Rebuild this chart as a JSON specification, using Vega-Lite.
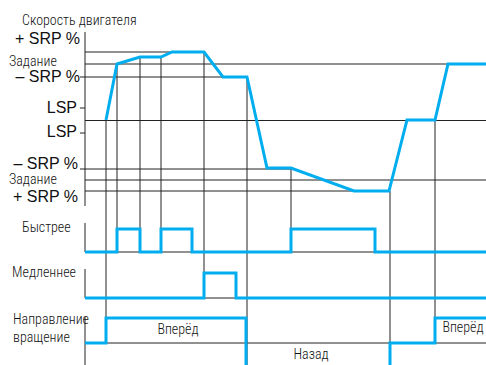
{
  "$schema": "https://vega.github.io/schema/vega-lite/v6.json",
  "width": 486,
  "height": 365,
  "autosize": {"type": "none"},
  "padding": 0,
  "background": "white",
  "config": {"view": {"stroke": null}},
  "datasets": {
    "grid": [
      {"x": 85, "x2": 85, "y": 32, "y2": 206},
      {"x": 85, "x2": 85, "y": 223, "y2": 252},
      {"x": 85, "x2": 85, "y": 269, "y2": 298},
      {"x": 85, "x2": 85, "y": 317, "y2": 366},
      {"x": 106, "x2": 106, "y": 120, "y2": 343},
      {"x": 117, "x2": 117, "y": 64, "y2": 252},
      {"x": 140, "x2": 140, "y": 57, "y2": 252},
      {"x": 161, "x2": 161, "y": 57, "y2": 252},
      {"x": 204, "x2": 204, "y": 52, "y2": 298},
      {"x": 247, "x2": 247, "y": 77, "y2": 366},
      {"x": 291, "x2": 291, "y": 168, "y2": 252},
      {"x": 390, "x2": 390, "y": 191, "y2": 366},
      {"x": 435, "x2": 435, "y": 120, "y2": 343},
      {"x": 85, "x2": 205, "y": 52, "y2": 52},
      {"x": 85, "x2": 486, "y": 64, "y2": 64},
      {"x": 80, "x2": 247, "y": 77, "y2": 77},
      {"x": 80, "x2": 85, "y": 108, "y2": 108},
      {"x": 85, "x2": 486, "y": 120.5, "y2": 120.5},
      {"x": 80, "x2": 85, "y": 133, "y2": 133},
      {"x": 80, "x2": 291, "y": 169, "y2": 169},
      {"x": 85, "x2": 486, "y": 180, "y2": 180},
      {"x": 85, "x2": 390, "y": 191, "y2": 191},
      {"x": 85, "x2": 486, "y": 252, "y2": 252},
      {"x": 85, "x2": 486, "y": 298, "y2": 298},
      {"x": 85, "x2": 486, "y": 343, "y2": 343}
    ],
    "signals": [
      {"s": "speed", "i": 1, "t": 106, "v": 120},
      {"s": "speed", "i": 2, "t": 117, "v": 64},
      {"s": "speed", "i": 3, "t": 140, "v": 57},
      {"s": "speed", "i": 4, "t": 161, "v": 57},
      {"s": "speed", "i": 5, "t": 172, "v": 52},
      {"s": "speed", "i": 6, "t": 204, "v": 52},
      {"s": "speed", "i": 7, "t": 223, "v": 77},
      {"s": "speed", "i": 8, "t": 247, "v": 77},
      {"s": "speed", "i": 9, "t": 267, "v": 168},
      {"s": "speed", "i": 10, "t": 291, "v": 168},
      {"s": "speed", "i": 11, "t": 354, "v": 191},
      {"s": "speed", "i": 12, "t": 389, "v": 191},
      {"s": "speed", "i": 13, "t": 407, "v": 120},
      {"s": "speed", "i": 14, "t": 435, "v": 120},
      {"s": "speed", "i": 15, "t": 448, "v": 64},
      {"s": "speed", "i": 16, "t": 486, "v": 64},
      {"s": "fast", "i": 1, "t": 85, "v": 252},
      {"s": "fast", "i": 2, "t": 117, "v": 252},
      {"s": "fast", "i": 3, "t": 117, "v": 229},
      {"s": "fast", "i": 4, "t": 140, "v": 229},
      {"s": "fast", "i": 5, "t": 140, "v": 252},
      {"s": "fast", "i": 6, "t": 161, "v": 252},
      {"s": "fast", "i": 7, "t": 161, "v": 229},
      {"s": "fast", "i": 8, "t": 192, "v": 229},
      {"s": "fast", "i": 9, "t": 192, "v": 252},
      {"s": "fast", "i": 10, "t": 291, "v": 252},
      {"s": "fast", "i": 11, "t": 291, "v": 229},
      {"s": "fast", "i": 12, "t": 375, "v": 229},
      {"s": "fast", "i": 13, "t": 375, "v": 252},
      {"s": "fast", "i": 14, "t": 486, "v": 252},
      {"s": "slow", "i": 1, "t": 85, "v": 298},
      {"s": "slow", "i": 2, "t": 204, "v": 298},
      {"s": "slow", "i": 3, "t": 204, "v": 273},
      {"s": "slow", "i": 4, "t": 236, "v": 273},
      {"s": "slow", "i": 5, "t": 236, "v": 298},
      {"s": "slow", "i": 6, "t": 486, "v": 298},
      {"s": "dir1", "i": 1, "t": 85, "v": 343},
      {"s": "dir1", "i": 2, "t": 106, "v": 343},
      {"s": "dir1", "i": 3, "t": 106, "v": 318},
      {"s": "dir1", "i": 4, "t": 246, "v": 318},
      {"s": "dir1", "i": 5, "t": 246, "v": 368},
      {"s": "dir2", "i": 1, "t": 390, "v": 368},
      {"s": "dir2", "i": 2, "t": 390, "v": 343},
      {"s": "dir2", "i": 3, "t": 435, "v": 343},
      {"s": "dir2", "i": 4, "t": 435, "v": 318},
      {"s": "dir2", "i": 5, "t": 486, "v": 318}
    ],
    "labelsR": [
      {"x": 80, "y": 39, "label": "+ SRP %"},
      {"x": 80, "y": 77, "label": "– SRP %"},
      {"x": 77, "y": 108, "label": "LSP"},
      {"x": 77, "y": 132, "label": "LSP"},
      {"x": 78, "y": 164, "label": "– SRP %"},
      {"x": 78, "y": 197, "label": "+ SRP %"}
    ],
    "labelsL": [
      {"x": 22, "y": 21, "label": "Скорость двигателя"},
      {"x": 9, "y": 62, "label": "Задание"},
      {"x": 9, "y": 180, "label": "Задание"},
      {"x": 22, "y": 228, "label": "Быстрее"},
      {"x": 12, "y": 273, "label": "Медленнее"},
      {"x": 13, "y": 320, "label": "Направление"},
      {"x": 13, "y": 338, "label": "вращение"}
    ],
    "labelsC": [
      {"x": 178, "y": 330, "label": "Вперёд"},
      {"x": 311, "y": 355, "label": "Назад"},
      {"x": 463, "y": 328, "label": "Вперёд"}
    ]
  },
  "layer": [
    {
      "data": {"name": "grid"},
      "mark": {"type": "rule", "color": "#222", "strokeWidth": 1, "clip": true},
      "encoding": {
        "x": {"field": "x", "type": "quantitative", "scale": {"domain": [0, 486], "nice": false, "zero": false}, "axis": null},
        "x2": {"field": "x2"},
        "y": {"field": "y", "type": "quantitative", "scale": {"domain": [0, 365], "nice": false, "zero": false, "reverse": true}, "axis": null},
        "y2": {"field": "y2"}
      }
    },
    {
      "data": {"name": "signals"},
      "mark": {"type": "line", "color": "#00AEEF", "strokeWidth": 3, "strokeJoin": "miter", "strokeCap": "butt", "clip": true},
      "encoding": {
        "x": {"field": "t", "type": "quantitative"},
        "y": {"field": "v", "type": "quantitative"},
        "detail": {"field": "s"},
        "order": {"field": "i", "type": "quantitative"}
      }
    },
    {
      "data": {"name": "labelsR"},
      "mark": {"type": "text", "align": "right", "baseline": "middle", "font": "Liberation Sans", "fontSize": 16, "color": "#111"},
      "encoding": {
        "x": {"field": "x", "type": "quantitative"},
        "y": {"field": "y", "type": "quantitative"},
        "text": {"field": "label"}
      }
    },
    {
      "data": {"name": "labelsL"},
      "mark": {"type": "text", "align": "left", "baseline": "middle", "font": "Roboto Condensed", "fontWeight": 300, "fontSize": 14, "color": "#111"},
      "encoding": {
        "x": {"field": "x", "type": "quantitative"},
        "y": {"field": "y", "type": "quantitative"},
        "text": {"field": "label"}
      }
    },
    {
      "data": {"name": "labelsC"},
      "mark": {"type": "text", "align": "center", "baseline": "middle", "font": "Roboto Condensed", "fontWeight": 300, "fontSize": 14, "color": "#111"},
      "encoding": {
        "x": {"field": "x", "type": "quantitative"},
        "y": {"field": "y", "type": "quantitative"},
        "text": {"field": "label"}
      }
    }
  ]
}
